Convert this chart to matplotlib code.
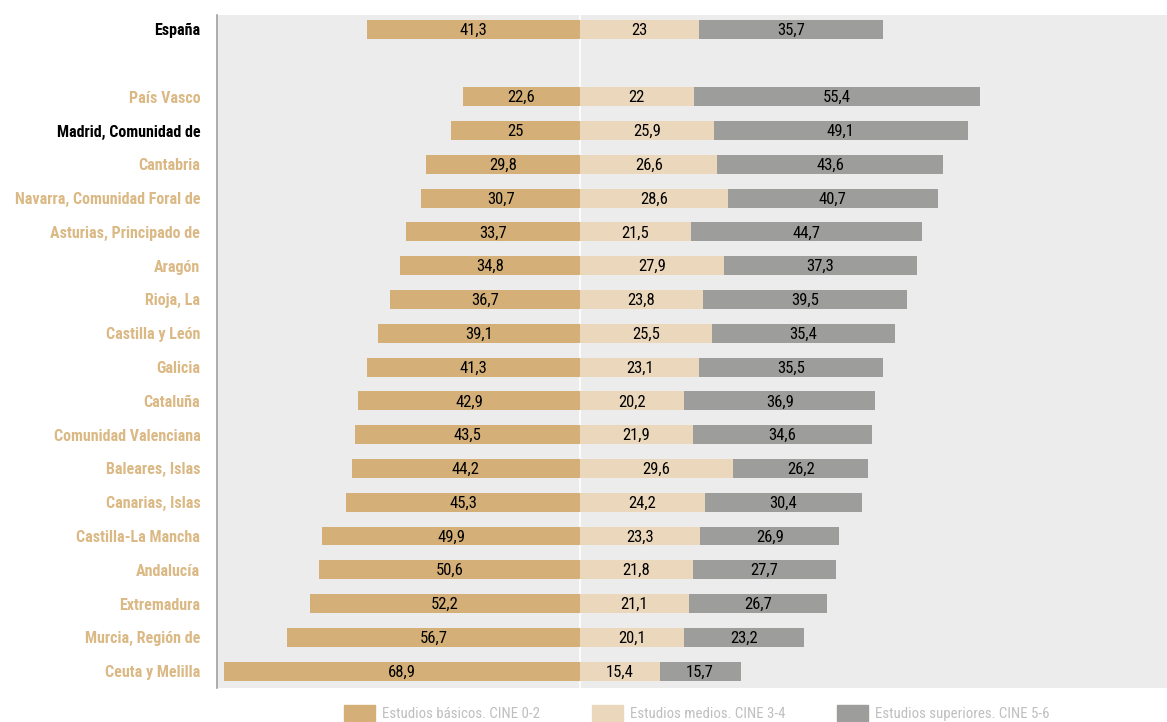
import matplotlib
matplotlib.use("Agg")
import matplotlib.pyplot as plt
from matplotlib import font_manager
from matplotlib.patches import Patch

# population by education level (%), basic studies drawn to the left
regions = ["España", "País Vasco", "Madrid, Comunidad de", "Cantabria",
           "Navarra, Comunidad Foral de", "Asturias, Principado de", "Aragón",
           "Rioja, La", "Castilla y León", "Galicia", "Cataluña",
           "Comunidad Valenciana", "Baleares, Islas", "Canarias, Islas",
           "Castilla-La Mancha", "Andalucía", "Extremadura",
           "Murcia, Región de", "Ceuta y Melilla"]
basicos = [41.3, 22.6, 25, 29.8, 30.7, 33.7, 34.8, 36.7, 39.1, 41.3, 42.9,
           43.5, 44.2, 45.3, 49.9, 50.6, 52.2, 56.7, 68.9]
medios = [23, 22, 25.9, 26.6, 28.6, 21.5, 27.9, 23.8, 25.5, 23.1, 20.2,
          21.9, 29.6, 24.2, 23.3, 21.8, 21.1, 20.1, 15.4]
superiores = [35.7, 55.4, 49.1, 43.6, 40.7, 44.7, 37.3, 39.5, 35.4, 35.5,
              36.9, 34.6, 26.2, 30.4, 26.9, 27.7, 26.7, 23.2, 15.7]
legend_labels = ["Estudios básicos. CINE 0-2", "Estudios medios. CINE 3-4",
                 "Estudios superiores. CINE 5-6"]
highlight = ["España", "Madrid, Comunidad de"]

c_bas = "#d4af78"
c_med = "#ebd7bb"
c_sup = "#9d9d9c"
c_lab = "#dbb985"

# narrow sans with separate regular / bold files
names = {f.name for f in font_manager.fontManager.ttflist}
narrow = "DejaVu Sans"
for fam in ["Roboto Condensed", "Open Sans Condensed", "Fira Sans Condensed",
            "PT Sans Narrow", "Asap Condensed", "Barlow Semi Condensed"]:
    if fam in names:
        narrow = fam
        break
plt.rcParams["font.family"] = [narrow, "DejaVu Sans"]

fig = plt.figure(figsize=(11.67, 7.22), dpi=100)
ax = fig.add_axes([217 / 1167, 1 - 688 / 722, 950 / 1167, 673 / 722])
ax.set_facecolor("#ececec")

# España on top, one empty row, then the regions
ypos = [0] + list(range(2, len(regions) + 1))
h = 0.56

neg = [-v for v in basicos]
ax.barh(ypos, neg, height=h, color=c_bas, zorder=2)
ax.barh(ypos, medios, height=h, color=c_med, zorder=2)
ax.barh(ypos, superiores, left=medios, height=h, color=c_sup, zorder=2)
ax.axvline(0, color="white", lw=1.2, zorder=1)

def fmt(v):
    return ("%g" % v).replace(".", ",")

for y, b, m, s in zip(ypos, basicos, medios, superiores):
    ax.text(-b / 2, y + 0.03, fmt(b), ha="center", va="center", fontsize=12, zorder=3)
    ax.text(m / 2, y + 0.03, fmt(m), ha="center", va="center", fontsize=12, zorder=3)
    ax.text(m + s / 2, y + 0.03, fmt(s), ha="center", va="center", fontsize=12, zorder=3)

ax.set_xlim(-70.25, 113.6)
ax.set_ylim(ypos[-1] + 0.5, -0.42)
ax.set_yticks(ypos)
ax.set_yticklabels(regions, fontsize=11.5, fontweight="bold")
for lab in ax.get_yticklabels():
    lab.set_color("black" if lab.get_text() in highlight else c_lab)
ax.tick_params(axis="y", length=0, pad=12)
ax.set_xticks([])
for side in ["top", "right", "bottom"]:
    ax.spines[side].set_visible(False)
ax.spines["left"].set_color("#a0a0a0")
ax.spines["left"].set_linewidth(1.2)

handles = [Patch(color=c) for c in (c_bas, c_med, c_sup)]
fig.legend(handles, legend_labels, loc="center", ncol=3, frameon=False,
           bbox_to_anchor=(697 / 1167, 1 - 713 / 722), fontsize=10.7,
           labelcolor="#bfbfbf", handlelength=2.08, handleheight=1.25,
           columnspacing=3.5, handletextpad=0.47)

fig.savefig("out.png", dpi=100, facecolor="white")
